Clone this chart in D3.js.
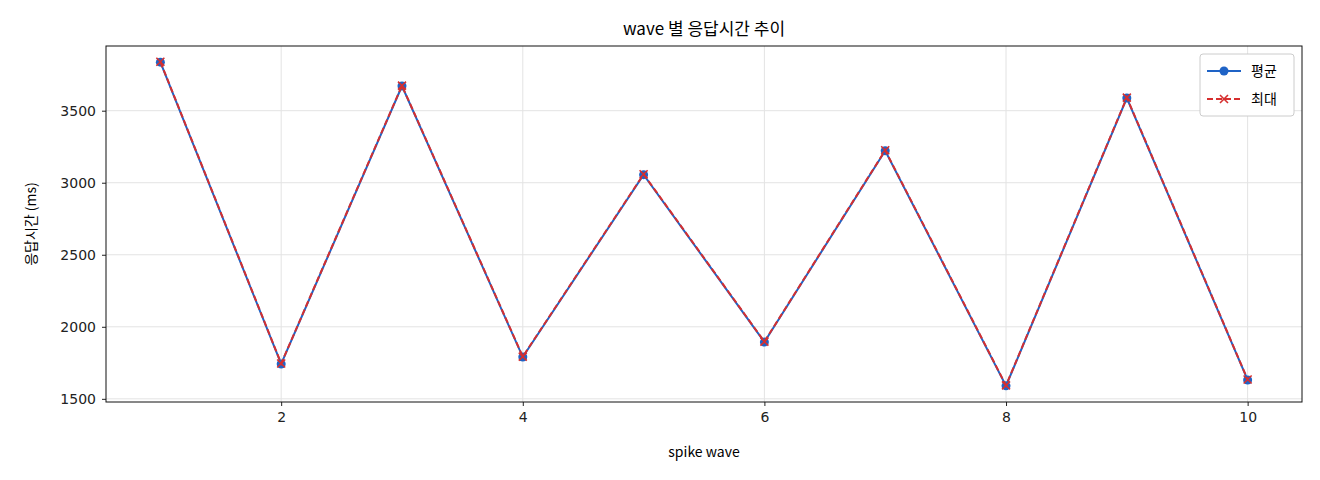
<!DOCTYPE html>
<html><head><meta charset="utf-8">
<script src="https://cdn.jsdelivr.net/npm/d3@7"></script>
<style>body{margin:0;background:#fff}text{font-family:"Noto Sans CJK KR","DejaVu Sans",sans-serif}</style>
</head><body><svg id="c" width="1320" height="480"></svg>
<script>
const waves=[1,2,3,4,5,6,7,8,9,10];
const avgMs=[3837,1742,3671,1790,3056,1894,3222,1590,3588,1631];
const maxMs=[3840,1745,3674,1793,3059,1897,3225,1593,3591,1634];
const xTicks=[2,4,6,8,10];
const yTicks=[1500,2000,2500,3000,3500];

const svg=d3.select("#c");
const L=106,R=1302,T=46,B=402;
const x=d3.scaleLinear().domain([0.55,10.45]).range([L,R]);
const y=d3.scaleLinear().domain([1478,3949]).range([B,T]);

const g=svg.append("g");
g.selectAll(".gx").data(xTicks).join("line").attr("x1",d=>x(d)).attr("x2",d=>x(d)).attr("y1",T).attr("y2",B).attr("stroke","#e3e3e3");
g.selectAll(".gy").data(yTicks).join("line").attr("y1",d=>y(d)).attr("y2",d=>y(d)).attr("x1",L).attr("x2",R).attr("stroke","#e3e3e3");

const ax=svg.append("g").attr("transform",`translate(0,${B})`).call(d3.axisBottom(x).tickValues(xTicks).tickFormat(d3.format("d")).tickSize(4).tickPadding(6));
const ay=svg.append("g").attr("transform",`translate(${L},0)`).call(d3.axisLeft(y).tickValues(yTicks).tickFormat(d3.format("d")).tickSize(4).tickPadding(6));
[ax,ay].forEach(a=>{a.select(".domain").remove();a.selectAll("text").attr("font-size",14).attr("fill","#222").style("font-family","'DejaVu Sans',sans-serif");a.selectAll("line").attr("stroke","#222");});
svg.append("rect").attr("x",L).attr("y",T).attr("width",R-L).attr("height",B-T).attr("fill","none").attr("stroke","#111");

const line=d3.line().x((d,i)=>x(waves[i])).y(d=>y(d));
svg.append("path").datum(avgMs).attr("d",line).attr("fill","none").attr("stroke","#1f63c6").attr("stroke-width",2);
svg.selectAll(".pa").data(avgMs).join("circle").attr("cx",(d,i)=>x(waves[i])).attr("cy",d=>y(d)).attr("r",4.5).attr("fill","#1f63c6");
svg.append("path").datum(maxMs).attr("d",line).attr("fill","none").attr("stroke","#d62f2f").attr("stroke-width",2).attr("stroke-dasharray","6,3");
const cross=(sel,cx,cy,s)=>sel.append("path").attr("d",`M${cx-s},${cy-s}L${cx+s},${cy+s}M${cx-s},${cy+s}L${cx+s},${cy-s}`).attr("stroke","#d62f2f").attr("stroke-width",1.6);
maxMs.forEach((d,i)=>cross(svg,x(waves[i]),y(d),4));

const lg=svg.append("g");
lg.append("rect").attr("x",1200).attr("y",54).attr("width",94).attr("height",62).attr("rx",3).attr("fill","#fff").attr("stroke","#ccc");
lg.append("line").attr("x1",1207).attr("x2",1241).attr("y1",71).attr("y2",71).attr("stroke","#1f63c6").attr("stroke-width",2);
lg.append("circle").attr("cx",1224).attr("cy",71).attr("r",4.5).attr("fill","#1f63c6");
lg.append("text").attr("x",1251).attr("y",76).attr("font-size",14).text("평균");
lg.append("line").attr("x1",1207).attr("x2",1241).attr("y1",99).attr("y2",99).attr("stroke","#d62f2f").attr("stroke-width",2).attr("stroke-dasharray","6,3");
cross(lg,1224,99,4);
lg.append("text").attr("x",1251).attr("y",104).attr("font-size",14).text("최대");

svg.append("text").attr("x",(L+R)/2).attr("y",35).attr("text-anchor","middle").attr("font-size",17).text("wave 별 응답시간 추이");
svg.append("text").attr("x",(L+R)/2).attr("y",457).attr("text-anchor","middle").attr("font-size",14).text("spike wave");
svg.append("text").attr("transform",`translate(36,${(T+B)/2}) rotate(-90)`).attr("text-anchor","middle").attr("font-size",14).text("응답시간 (ms)");
</script></body></html>
